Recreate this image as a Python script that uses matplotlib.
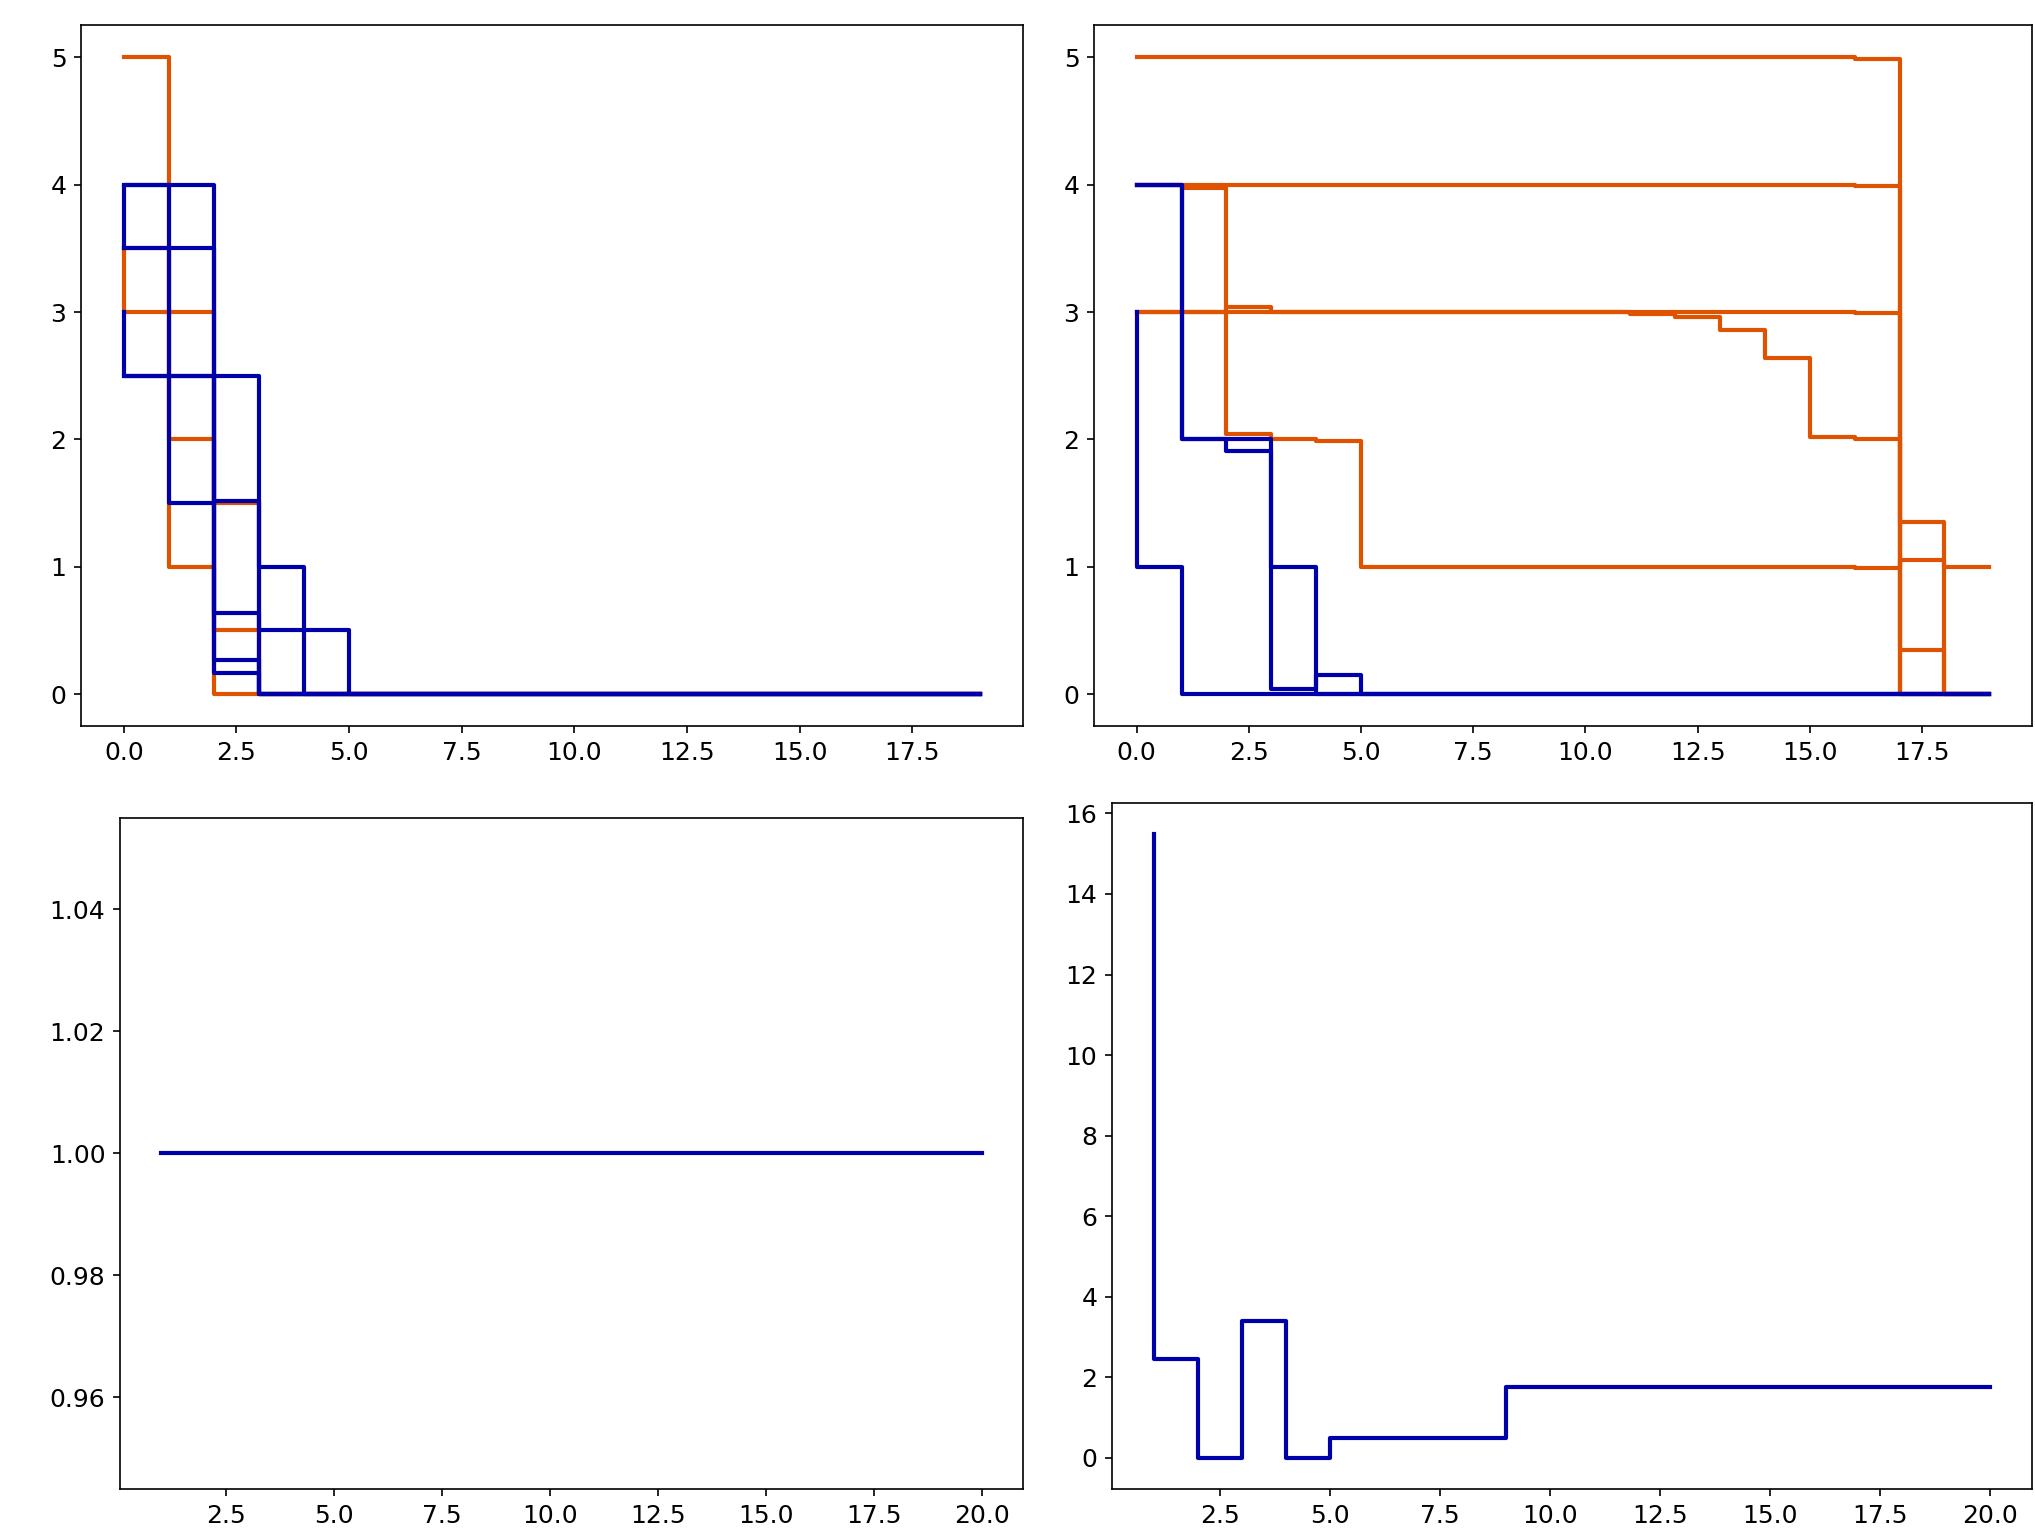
import numpy as np
import matplotlib
matplotlib.use("Agg")
import matplotlib.pyplot as plt

ORANGE = "#df5200"
BLUE = "#0000aa"

plt.rcParams["font.size"] = 12

# top row: x = 0..19, step values ("pre" steps)
x_top = np.arange(20)

# top-left panel
tl_orange = [
    [5, 5, 1, 0, 0, 0, 0, 0, 0, 0, 0, 0, 0, 0, 0, 0, 0, 0, 0, 0],
    [3.5, 3, 3, 0.5, 0, 0, 0, 0, 0, 0, 0, 0, 0, 0, 0, 0, 0, 0, 0, 0],
    [3.5, 3.5, 2, 1.5, 0, 0, 0, 0, 0, 0, 0, 0, 0, 0, 0, 0, 0, 0, 0, 0],
]
tl_blue = [
    [4, 4, 4, 0.167, 0, 0, 0, 0, 0, 0, 0, 0, 0, 0, 0, 0, 0, 0, 0, 0],
    [3.5, 4, 1.5, 1.52, 1, 0, 0, 0, 0, 0, 0, 0, 0, 0, 0, 0, 0, 0, 0, 0],
    [3.5, 3.5, 3.5, 0.635, 0.5, 0.5, 0, 0, 0, 0, 0, 0, 0, 0, 0, 0, 0, 0, 0, 0],
    [3, 2.5, 2.5, 2.5, 0, 0, 0, 0, 0, 0, 0, 0, 0, 0, 0, 0, 0, 0, 0, 0],
    [2.5, 2.5, 2.5, 0.27, 0, 0, 0, 0, 0, 0, 0, 0, 0, 0, 0, 0, 0, 0, 0, 0],
]

# top-right panel
tr_orange = [
    [5, 5, 5, 5, 5, 5, 5, 5, 5, 5, 5, 5, 5, 5, 5, 5, 5, 4.99, 0, 0],
    [4, 4, 4, 4, 4, 4, 4, 4, 4, 4, 4, 4, 4, 4, 4, 4, 4, 3.99, 1.35, 0],
    [4, 4, 3.97, 2.04, 2.005, 1.99, 1, 1, 1, 1, 1, 1, 1, 1, 1, 1, 1, 0.99, 1.05, 1],
    [3, 3, 3, 3.04, 3, 3, 3, 3, 3, 3, 3, 3, 3, 3, 3, 3, 3, 2.99, 0.35, 0],
    [3, 3, 3, 3, 3, 3, 3, 3, 3, 3, 3, 3, 2.987, 2.96, 2.86, 2.64, 2.02, 2.0, 0, 0],
]
tr_blue = [
    [3, 1, 0, 0, 0, 0, 0, 0, 0, 0, 0, 0, 0, 0, 0, 0, 0, 0, 0, 0],
    [4, 4, 2, 2, 1, 0, 0, 0, 0, 0, 0, 0, 0, 0, 0, 0, 0, 0, 0, 0],
    [4, 4, 2, 1.91, 0.04, 0.15, 0, 0, 0, 0, 0, 0, 0, 0, 0, 0, 0, 0, 0, 0],
]

# bottom row: x = 1..20
x_bot = np.arange(1, 21)
bl_values = [1.0] * 20
br_values = [15.48, 2.45, 0, 3.4, 0, 0.5, 0.5, 0.5, 0.5,
             1.75, 1.75, 1.75, 1.75, 1.75, 1.75, 1.75, 1.75, 1.75, 1.75, 1.75]

fig = plt.figure(figsize=(2035 / 150, 1532 / 150), dpi=150)
ax_tl = fig.add_axes([0.0398, 0.5261, 0.4627, 0.4573])
ax_tr = fig.add_axes([0.5376, 0.5261, 0.4609, 0.4573])
ax_bl = fig.add_axes([0.0590, 0.0281, 0.4435, 0.4380])
ax_br = fig.add_axes([0.5464, 0.0281, 0.4521, 0.4476])

for ax, oranges, blues in [(ax_tl, tl_orange, tl_blue), (ax_tr, tr_orange, tr_blue)]:
    for ys in oranges:
        ax.step(x_top, ys, color=ORANGE, lw=2)
    for ys in blues:
        ax.step(x_top, ys, color=BLUE, lw=2)

ax_bl.step(x_bot, bl_values, color=BLUE, lw=2)
ax_br.step(x_bot, br_values, color=BLUE, lw=2)

fig.savefig("out.png", dpi=150)
